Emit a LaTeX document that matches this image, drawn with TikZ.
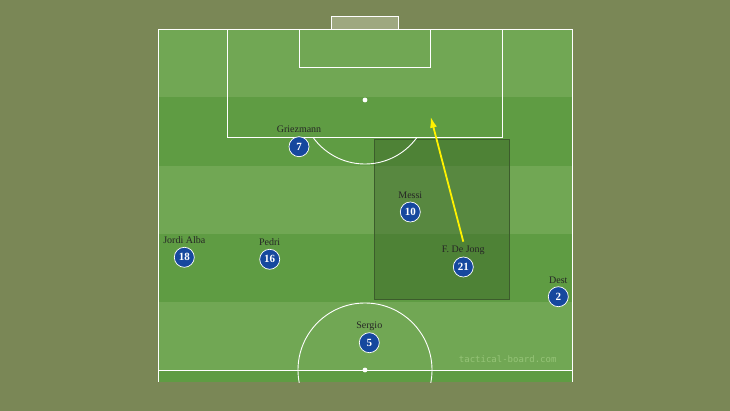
\documentclass[tikz,border=0pt]{standalone}
\usepackage{fontspec}
\setmainfont{Liberation Serif}
\newfontfamily\wmfont{DejaVu Sans Mono}
\usetikzlibrary{arrows.meta}
\definecolor{bgolive}{RGB}{122,135,86}
\definecolor{lightg}{RGB}{113,167,84}
\definecolor{darkg}{RGB}{95,156,67}
\definecolor{zoneg}{RGB}{58,100,40}
\definecolor{zoneb}{RGB}{60,92,44}
\definecolor{goalf}{RGB}{158,168,128}
\definecolor{pblue}{RGB}{22,72,158}
\definecolor{wmark}{RGB}{150,196,120}
\tikzset{
  pline/.style={draw=white, line width=0.9pt},
  player/.style={circle, fill=pblue, draw=white, line width=0.7pt, minimum size=20pt, inner sep=0pt,
    text=white, font=\bfseries\fontsize{11}{11}\selectfont},
  lbl/.style={text=black!85, font=\fontsize{10}{10}\selectfont, inner sep=0pt},
  arr/.style={draw=yellow, line width=1.8pt, -{Latex[length=11pt,width=7pt]}},
}
\begin{document}
\begin{tikzpicture}[x=1pt,y=-1pt]
\useasboundingbox (0,0) rectangle (730,411);
\fill[bgolive] (0,0) rectangle (730,411);
% goal
\fill[goalf] (331.7,16.7) rectangle (398,29);
\draw[white, line width=0.8pt] (331.7,29) -- (331.7,16.7) -- (398,16.7) -- (398,29);
% stripes
\fill[lightg] (158,29) rectangle (572,97.3);
\fill[darkg] (158,97.3) rectangle (572,165.7);
\fill[lightg] (158,165.7) rectangle (572,234);
\fill[darkg] (158,234) rectangle (572,302.3);
\fill[lightg] (158,302.3) rectangle (572,370);
\fill[darkg] (158,370) rectangle (572,382);
% zone
\fill[zoneg, fill opacity=0.45] (374,139.3) rectangle (509.3,299);
\draw[zoneb, line width=0.8pt] (374,139.3) rectangle (509.3,299);
% lines
\draw[pline] (158,382) -- (158,29) -- (572,29) -- (572,382);
\draw[pline] (227,29) rectangle (502,137.7);
\draw[pline] (299,29) rectangle (430.7,67.3);
\fill[white] (365,100) circle (2.4pt);
\begin{scope}
  \clip (158,137.7) rectangle (572,200);
  \draw[pline] (365,100) circle (64pt);
\end{scope}
\draw[pline] (158,370) -- (572,370);
\begin{scope}
  \clip (158,29) rectangle (572,382);
  \draw[pline] (365,370) circle (67pt);
\end{scope}
\fill[white] (365,370) circle (2.4pt);
% watermark
\node[text=wmark, font=\wmfont\fontsize{9}{9}\selectfont, inner sep=0pt] (wm) at (507.7,359.3) {tactical-board.com};
% arrow
\coordinate (a1) at (463.3,241.7);
\coordinate (a2) at (430.7,116.7);
\draw[arr] (a1) -- (a2);
% players
\node[player] (p7) at (299,146.7) {7};
\node[lbl] (l7) at (299,129.3) {Griezmann};
\node[player] (p10) at (410.3,212) {10};
\node[lbl] (l10) at (410.3,195) {Messi};
\node[player] (p18) at (184.3,257.3) {18};
\node[lbl] (l18) at (184.3,240.3) {Jordi Alba};
\node[player] (p16) at (269.7,259.3) {16};
\node[lbl] (l16) at (269.7,242) {Pedri};
\node[player] (p21) at (463.3,267) {21};
\node[lbl] (l21) at (463.3,250) {F. De Jong};
\node[player] (p2) at (558.3,296.7) {2};
\node[lbl] (l2) at (558.3,280) {Dest};
\node[player] (p5) at (369.3,342.7) {5};
\node[lbl] (l5) at (369.3,326) {Sergio};
\end{tikzpicture}
\end{document}
